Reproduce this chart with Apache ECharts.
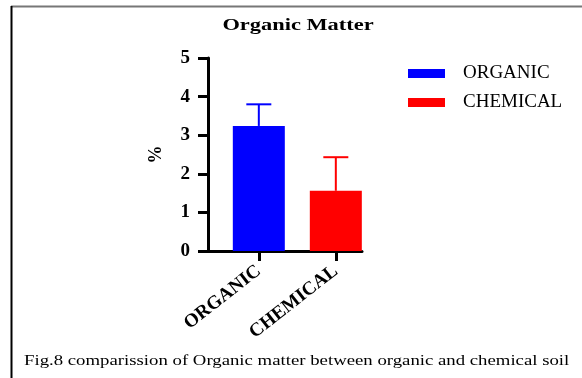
<!DOCTYPE html>
<html>
<head>
<meta charset="utf-8">
<script src="https://cdn.jsdelivr.net/npm/echarts@6/dist/echarts.min.js"></script>
<style>
html,body{margin:0;padding:0;background:#fff;}
#c{width:582px;height:378px;}
</style>
</head>
<body>
<div id="c"></div>
<script>
var categories = ['ORGANIC', 'CHEMICAL'];
var means = [3.24, 1.56];
var errorTops = [3.80, 2.43];
var colors = ['#0000ff', '#ff0000'];
var yTicks = [0, 1, 2, 3, 4, 5];
var titleText = 'Organic Matter';
var captionText = 'Fig.8 comparission of Organic matter between organic and chemical soil';

var serif = '"Liberation Serif", "Times New Roman", serif';
var chart = echarts.init(document.getElementById('c'));

var barSeries = categories.map(function (name, i) {
  return {
    name: name,
    type: 'bar',
    barWidth: 52,
    barGap: '-100%',
    itemStyle: { color: colors[i] },
    data: [[i, means[i]]],
    z: 2
  };
});

var errSeries = {
  type: 'custom',
  name: 'err',
  z: 3,
  data: categories.map(function (c, i) { return [i, means[i], errorTops[i], i]; }),
  renderItem: function (params, api) {
    var x = api.value(0);
    var base = api.coord([x, api.value(1)]);
    var top = api.coord([x, api.value(2)]);
    var col = colors[api.value(3)];
    var half = 12.5;
    return {
      type: 'group',
      children: [
        { type: 'line', shape: { x1: base[0], y1: base[1], x2: top[0], y2: top[1] }, style: { stroke: col, lineWidth: 2 } },
        { type: 'line', shape: { x1: top[0] - half, y1: top[1], x2: top[0] + half, y2: top[1] }, style: { stroke: col, lineWidth: 2 } }
      ]
    };
  }
};

chart.setOption({
  animation: false,
  backgroundColor: '#fff',
  legend: {
    orient: 'vertical',
    left: 403, top: 59,
    itemWidth: 37, itemHeight: 9,
    itemGap: 10,
    icon: 'rect',
    data: categories,
    textStyle: { fontFamily: serif, fontSize: 19, lineHeight: 18, color: '#000', padding: [0, 0, 0, 13] }
  },
  grid: { left: 208, right: 220, top: 58, bottom: 127 },
  xAxis: {
    type: 'value',
    min: -0.66, max: 1.34,
    splitLine: { show: false },
    axisLine: { show: true, onZero: false, lineStyle: { color: '#000', width: 3 } },
    axisTick: { show: true, customValues: [0, 1], length: 10, lineStyle: { color: '#000', width: 3 } },
    axisLabel: {
      customValues: [0, 1],
      rotate: 38, margin: 18,
      formatter: function (v) { return categories[Math.round(v)]; },
      fontFamily: serif, fontWeight: 'bold', fontSize: 19, color: '#000'
    }
  },
  yAxis: {
    type: 'value',
    min: 0, max: 5, interval: 1,
    name: '%', nameLocation: 'middle', nameRotate: 90, nameGap: 43,
    nameTextStyle: { fontFamily: serif, fontWeight: 'bold', fontSize: 18, color: '#000' },
    splitLine: { show: false },
    axisLine: { show: true, onZero: false, lineStyle: { color: '#000', width: 3 } },
    axisTick: { show: true, length: 10, lineStyle: { color: '#000', width: 3 } },
    axisLabel: {
      margin: 18,
      formatter: function (v) { return yTicks.indexOf(v) >= 0 ? String(v) : ''; },
      fontFamily: serif, fontWeight: 'bold', fontSize: 19, color: '#000'
    }
  },
  graphic: [
    { type: 'line', shape: { x1: 11, y1: 6.5, x2: 582, y2: 6.5 }, style: { stroke: '#777', lineWidth: 2 }, silent: true },
    { type: 'line', shape: { x1: 11.5, y1: 6, x2: 11.5, y2: 378 }, style: { stroke: '#000', lineWidth: 2 }, silent: true },
    { type: 'text', x: 298, y: 26, scaleX: 1.4, silent: true,
      style: { text: titleText, font: 'bold 16px ' + serif, fill: '#000', align: 'center', verticalAlign: 'middle' } },
    { type: 'text', x: 24, y: 361, scaleX: 1.34, silent: true,
      style: { text: captionText, font: '14px ' + serif, fill: '#000', align: 'left', verticalAlign: 'middle' } }
  ],
  series: barSeries.concat([errSeries])
});
</script>
</body>
</html>
